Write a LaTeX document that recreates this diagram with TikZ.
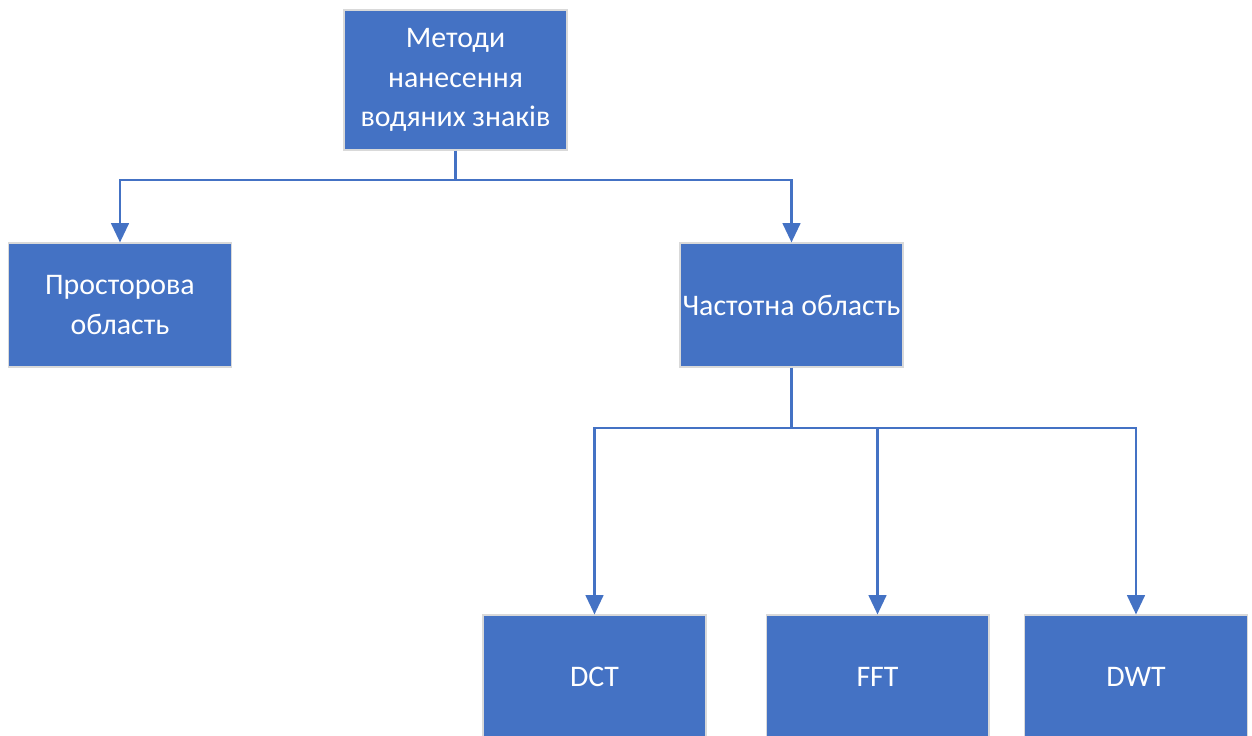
\documentclass[tikz,border=0pt]{standalone}
\usepackage{fontspec}
\setmainfont{Carlito}
\usepackage{xcolor}
\usepackage{tikz}
\usetikzlibrary{arrows.meta, positioning}

\definecolor{officeblue}{HTML}{4472C4}

\begin{document}
\begin{tikzpicture}[
                x=0.02cm, y=-0.02cm,
                box/.style={draw=black!15, line width=0.6pt, fill=officeblue, text=white, align=center, inner sep=1pt, minimum width=4.46cm, minimum height=2.48cm},
                arrow/.style={-{Triangle[width=10pt, length=11pt]}, draw=officeblue, line width=1.5pt},
                line/.style={draw=officeblue, line width=1.5pt},
                every node/.style={font=\fontsize{17}{22.5}\selectfont}
            ]

            \useasboundingbox (0,0) rectangle (1252,736);

            % Nodes
            \node[box, minimum height=2.8cm] (methods) at (455.5, 80) {Методи\\нанесення\\водяних знаків};
            \node[box] (spatial) at (120, 305) {Просторова\\область};
            \node[box] (freq) at (791.5, 305) {Частотна область};
            \node[box] (dct) at (594.5, 677) {DCT};
            \node[box] (fft) at (877.5, 677) {FFT};
            \node[box] (dwt) at (1136, 677) {DWT};

            % Branch points
            \coordinate (split1) at (455.5, 180);
            \coordinate (split2) at (791.5, 428);

            % Edges
            \draw[line] (methods.south) -- (split1);
            \draw[arrow] (split1) -| (spatial.north);
            \draw[arrow] (split1) -| (freq.north);

            \draw[line] (freq.south) -- (split2);
            \draw[arrow] (split2) -| (dct.north);
            \draw[arrow] (split2) -| (fft.north);
            \draw[arrow] (split2) -| (dwt.north);
            \end{tikzpicture}
\end{document}
